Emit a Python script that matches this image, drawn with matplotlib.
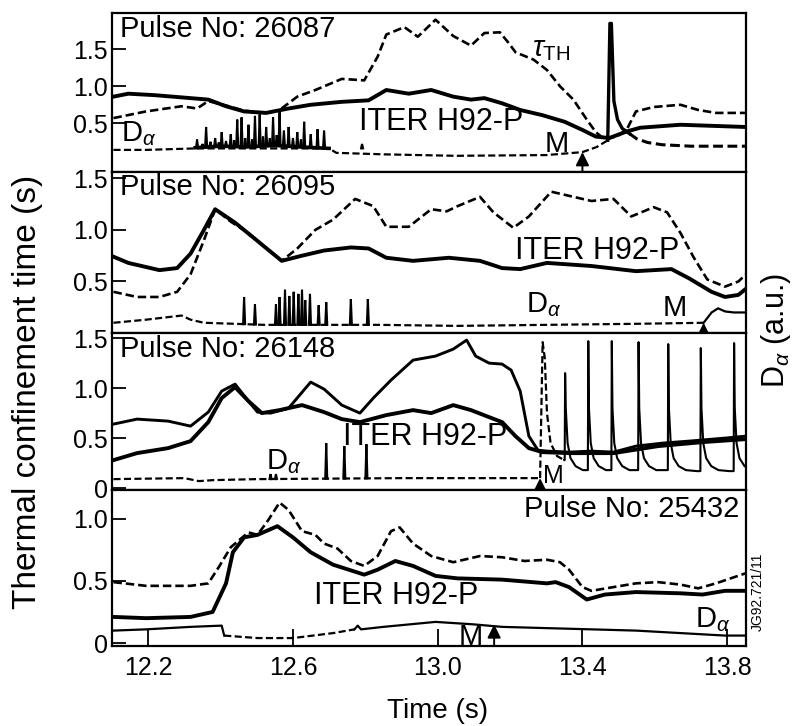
import numpy as np
import matplotlib
matplotlib.use("Agg")
import matplotlib.pyplot as plt

plt.rcParams['font.family'] = ['Liberation Sans', 'DejaVu Sans']
plt.rcParams['mathtext.fontset'] = 'custom'
plt.rcParams['mathtext.rm'] = 'Liberation Sans'
plt.rcParams['mathtext.it'] = 'Liberation Sans:italic'

# ---------------- data ----------------
x_ticks = [12.2, 12.6, 13.0, 13.4, 13.8]
x_ticklabels = ['12.2', '12.6', '13.0', '13.4', '13.8']
pulse_labels = ['Pulse No: 26087', 'Pulse No: 26095', 'Pulse No: 26148', 'Pulse No: 25432']

# Panel 1 (26087)
p1_tau_t = [12.104, 12.194, 12.292, 12.335, 12.366, 12.415, 12.465, 12.526, 12.563, 12.612, 12.662, 12.735,
            12.797, 12.834, 12.858, 12.908, 12.945, 12.994, 13.043, 13.092, 13.129, 13.172, 13.197, 13.215,
            13.265, 13.302, 13.338, 13.375, 13.412, 13.437, 13.462, 13.498, 13.523, 13.548, 13.597, 13.671,
            13.720, 13.769, 13.850]
p1_tau_v = [0.57, 0.66, 0.73, 0.70, 0.80, 0.74, 0.67, 0.64, 0.68, 0.86, 0.95, 1.10,
            1.08, 1.40, 1.70, 1.80, 1.67, 1.90, 1.68, 1.55, 1.72, 1.73, 1.58, 1.46,
            1.36, 1.22, 1.00, 0.82, 0.55, 0.38, 0.28, 0.33, 0.42, 0.66, 0.72, 0.75,
            0.68, 0.64, 0.64]
p1_iter_t = [12.104, 12.145, 12.218, 12.317, 12.366, 12.415, 12.465, 12.526, 12.588, 12.649, 12.735, 12.809,
             12.858, 12.920, 12.982, 13.043, 13.092, 13.129, 13.178, 13.228, 13.289, 13.351, 13.400, 13.437,
             13.474, 13.523, 13.560, 13.671, 13.850]
p1_iter_v = [0.86, 0.90, 0.88, 0.84, 0.82, 0.73, 0.66, 0.64, 0.70, 0.75, 0.79, 0.81,
             0.95, 0.90, 0.95, 0.86, 0.82, 0.84, 0.77, 0.68, 0.61, 0.52, 0.41, 0.32,
             0.30, 0.39, 0.44, 0.48, 0.45]
p1_da_t = [12.104, 12.194, 12.330, 12.700, 12.720, 12.850, 13.050, 13.300, 13.400, 13.440, 13.470]
p1_da_v = [0.14, 0.14, 0.16, 0.16, 0.10, 0.08, 0.06, 0.07, 0.11, 0.18, 0.27]
p1_noisy_t = [12.330, 12.40, 12.47, 12.55, 12.62, 12.70]
p1_noisy_v = [0.17, 0.19, 0.18, 0.20, 0.18, 0.16]
p1_spike_t = [12.335, 12.350, 12.360, 12.372, 12.385, 12.395, 12.403, 12.415, 12.428, 12.438, 12.446, 12.458,
              12.468, 12.477, 12.487, 12.495, 12.508, 12.517, 12.526, 12.536, 12.545, 12.555, 12.563, 12.575,
              12.588, 12.600, 12.612, 12.622, 12.631, 12.649, 12.668, 12.686, 12.791]
p1_spike_v = [0.28, 0.22, 0.45, 0.25, 0.30, 0.24, 0.38, 0.26, 0.35, 0.27, 0.55, 0.58,
              0.30, 0.48, 0.28, 0.60, 0.62, 0.32, 0.45, 0.30, 0.58, 0.34, 0.65, 0.40,
              0.45, 0.30, 0.38, 0.28, 0.52, 0.35, 0.42, 0.40, 0.22]
p1_big_t = [13.470, 13.476, 13.480, 13.487, 13.497, 13.510, 13.530]
p1_big_v = [0.27, 1.85, 1.85, 0.80, 0.55, 0.43, 0.36]
p1_after_t = [13.530, 13.550, 13.580, 13.620, 13.700, 13.850]
p1_after_v = [0.36, 0.29, 0.24, 0.21, 0.19, 0.19]
p1_M_t = 13.40
p1_M_v = 0.11

# Panel 2 (26095)
p2_tau_t = [12.104, 12.169, 12.231, 12.280, 12.317, 12.354, 12.385, 12.428, 12.477, 12.526, 12.569, 12.612,
            12.662, 12.711, 12.772, 12.822, 12.858, 12.920, 12.982, 13.025, 13.055, 13.117, 13.154, 13.209,
            13.252, 13.314, 13.363, 13.425, 13.486, 13.535, 13.597, 13.634, 13.671, 13.708, 13.745, 13.794,
            13.831, 13.852]
p2_tau_v = [0.40, 0.35, 0.35, 0.40, 0.57, 0.90, 1.20, 1.08, 0.97, 0.82, 0.70, 0.82,
            1.00, 1.10, 1.30, 1.23, 1.03, 1.03, 1.20, 1.18, 1.23, 1.32, 1.17, 1.02,
            1.13, 1.37, 1.33, 1.28, 1.30, 1.13, 1.22, 1.17, 0.97, 0.73, 0.52, 0.45,
            0.50, 0.57]
p2_iter_t = [12.104, 12.145, 12.231, 12.280, 12.317, 12.354, 12.385, 12.440, 12.489, 12.569, 12.625, 12.686,
             12.760, 12.809, 12.858, 12.932, 13.031, 13.117, 13.178, 13.228, 13.302, 13.425, 13.548, 13.646,
             13.695, 13.757, 13.794, 13.831, 13.852]
p2_iter_v = [0.74, 0.68, 0.61, 0.63, 0.77, 1.00, 1.20, 1.07, 0.93, 0.70, 0.75, 0.80,
             0.83, 0.82, 0.73, 0.70, 0.73, 0.70, 0.63, 0.62, 0.68, 0.65, 0.60, 0.62,
             0.53, 0.40, 0.35, 0.37, 0.43]
p2_da_t = [12.104, 12.194, 12.292, 12.317, 12.354, 12.440, 12.520, 12.834, 13.055, 13.302, 13.548, 13.735]
p2_da_v = [0.10, 0.13, 0.17, 0.13, 0.10, 0.09, 0.08, 0.08, 0.07, 0.08, 0.09, 0.10]
p2_after_t = [13.735, 13.757, 13.775, 13.794, 13.818, 13.852]
p2_after_v = [0.10, 0.20, 0.24, 0.21, 0.20, 0.20]
p2_spike_t = [12.465, 12.495, 12.553, 12.563, 12.578, 12.590, 12.602, 12.615, 12.625, 12.634, 12.647, 12.671,
              12.692, 12.760, 12.807]
p2_spike_v = [0.35, 0.28, 0.28, 0.35, 0.42, 0.36, 0.40, 0.38, 0.42, 0.32, 0.38, 0.27,
              0.30, 0.33, 0.33]
p2_M_t = 13.735
p2_M_v = 0.10

# Panel 3 (26148)
p3_tau_t = [12.104, 12.169, 12.255, 12.317, 12.366, 12.403, 12.440, 12.477, 12.502, 12.538, 12.588, 12.649,
            12.686, 12.735, 12.785, 12.822, 12.871, 12.932, 12.994, 13.043, 13.080, 13.105, 13.142, 13.178,
            13.203, 13.228, 13.252, 13.277, 13.302, 13.363, 13.424, 13.486, 13.548, 13.622, 13.695, 13.794,
            13.852]
p3_tau_v = [0.64, 0.69, 0.67, 0.62, 0.76, 0.97, 1.04, 0.87, 0.76, 0.75, 0.80, 1.06,
            0.99, 0.83, 0.75, 0.90, 1.08, 1.28, 1.32, 1.39, 1.48, 1.32, 1.25, 1.24,
            1.18, 0.97, 0.52, 0.38, 0.37, 0.36, 0.37, 0.36, 0.42, 0.45, 0.47, 0.50,
            0.52]
p3_iter_t = [12.104, 12.169, 12.255, 12.317, 12.366, 12.403, 12.440, 12.477, 12.514, 12.563, 12.625, 12.686,
             12.735, 12.785, 12.858, 12.932, 12.982, 13.043, 13.092, 13.142, 13.178, 13.215, 13.252, 13.289,
             13.363, 13.486, 13.609, 13.732, 13.852]
p3_iter_v = [0.28, 0.35, 0.40, 0.47, 0.66, 0.90, 1.01, 0.87, 0.75, 0.78, 0.83, 0.76,
             0.69, 0.66, 0.73, 0.78, 0.75, 0.83, 0.78, 0.71, 0.66, 0.52, 0.40, 0.36,
             0.35, 0.35, 0.42, 0.46, 0.49]
p3_da_t = [12.104, 12.300, 12.340, 12.380, 12.500, 12.900, 13.283]
p3_da_v = [0.09, 0.10, 0.07, 0.08, 0.09, 0.10, 0.10]
p3_spike_t = [12.538, 12.553, 12.692, 12.742, 12.803]
p3_spike_v = [0.14, 0.14, 0.45, 0.42, 0.44]
p3_elm1_t = [13.283, 13.290, 13.296, 13.302, 13.312, 13.330, 13.350]
p3_elm1_v = [0.10, 1.46, 1.30, 0.75, 0.45, 0.32, 0.28]
p3_elm_t = [13.351, 13.415, 13.480, 13.554, 13.636, 13.726, 13.818]
p3_elm_v = [1.15, 1.47, 1.47, 1.46, 1.44, 1.40, 1.45]
elm_tail_dt = [0.003, 0.008, 0.016, 0.030, 0.050, 0.080]
elm_tail_v = [0.80, 0.45, 0.30, 0.22, 0.18, 0.17]
p3_M_t = 13.283
p3_M_v = 0.10

# Panel 4 (25432)
p4_tau_t = [12.104, 12.194, 12.317, 12.366, 12.397, 12.428, 12.452, 12.477, 12.502, 12.532, 12.563, 12.588,
            12.625, 12.662, 12.686, 12.723, 12.760, 12.797, 12.834, 12.871, 12.895, 12.932, 12.982, 13.043,
            13.117, 13.178, 13.240, 13.302, 13.338, 13.363, 13.400, 13.425, 13.486, 13.548, 13.609, 13.671,
            13.720, 13.769, 13.850]
p4_tau_v = [0.49, 0.46, 0.46, 0.48, 0.62, 0.77, 0.83, 0.89, 0.87, 0.99, 1.13, 1.07,
            0.90, 0.87, 0.80, 0.76, 0.66, 0.62, 0.70, 0.90, 0.93, 0.80, 0.70, 0.65,
            0.70, 0.69, 0.66, 0.67, 0.65, 0.59, 0.45, 0.42, 0.45, 0.48, 0.49, 0.47,
            0.44, 0.48, 0.56]
p4_iter_t = [12.104, 12.194, 12.317, 12.378, 12.415, 12.434, 12.465, 12.502, 12.557, 12.600, 12.649, 12.711,
             12.797, 12.834, 12.883, 12.932, 12.994, 13.055, 13.178, 13.302, 13.326, 13.363, 13.412, 13.462,
             13.548, 13.671, 13.732, 13.794, 13.850]
p4_iter_v = [0.21, 0.20, 0.21, 0.25, 0.48, 0.73, 0.85, 0.87, 0.94, 0.85, 0.73, 0.63,
             0.55, 0.59, 0.66, 0.62, 0.54, 0.52, 0.51, 0.48, 0.49, 0.45, 0.35, 0.39,
             0.41, 0.40, 0.39, 0.42, 0.42]
p4_da_t = [12.104, 12.194, 12.317, 12.403, 12.410, 12.502, 12.600, 12.711, 12.770, 12.779, 12.788, 12.850,
           12.994, 13.100, 13.178, 13.300, 13.425, 13.548, 13.671, 13.794, 13.850]
p4_da_v = [0.10, 0.11, 0.13, 0.14, 0.06, 0.04, 0.04, 0.08, 0.11, 0.14, 0.11, 0.13,
           0.17, 0.15, 0.13, 0.12, 0.11, 0.10, 0.08, 0.06, 0.06]
p4_M_t = 13.156
p4_M_v = 0.15

# ---------------- figure ----------------
fig = plt.figure(figsize=(7.98, 7.26), dpi=100)
gs = fig.add_gridspec(4, 1, left=0.1404, right=0.9348, top=0.982, bottom=0.110,
                      hspace=0, height_ratios=[159, 161, 157, 156])
axes = [fig.add_subplot(gs[i]) for i in range(4)]

ylims = [(-0.16, 1.99), (0.0, 1.56), (-0.02, 1.55), (-0.025, 1.23)]
yticks = [[0.5, 1.0, 1.5], [0.5, 1.0, 1.5], [0, 0.5, 1.0, 1.5], [0, 0.5, 1.0]]
ytlabels = [['0.5', '1.0', '1.5'], ['0.5', '1.0', '1.5'], ['0', '0.5', '1.0', '1.5'], ['0', '0.5', '1.0']]

K = 'black'
LW_ITER = 2.8
LW_TAU = 1.9
LW_DA = 1.6
DASH = (3.2, 1.5)

TFS = 18
LFS = 21

for i, ax in enumerate(axes):
    ax.set_xlim(12.10, 13.852)
    ax.set_ylim(*ylims[i])
    ax.set_yticks(yticks[i])
    ax.set_yticklabels(ytlabels[i], fontsize=TFS)
    ax.tick_params(axis='y', direction='in', length=10, width=1.3, pad=3)
    ax.set_xticks(x_ticks)
    for s in ax.spines.values():
        s.set_linewidth(1.6)
    if i < 3:
        ax.tick_params(axis='x', length=0, labelbottom=False)
    else:
        ax.set_xticklabels(x_ticklabels, fontsize=TFS)
        ax.tick_params(axis='x', direction='in', length=12, width=1.3, pad=7)


def spikes(ax, ts, vs, bt, bv, w=0.0028, lw=1.5):
    for t, v in zip(ts, vs):
        b = np.interp(t, bt, bv)
        ax.plot([t - w, t, t + w], [b, v, b], color=K, lw=lw, solid_joinstyle='miter')


def arrow(ax, t, v):
    y0 = ax.get_ylim()[0]
    ax.annotate('', xy=(t, v), xytext=(t, y0),
                arrowprops=dict(arrowstyle='-|>', lw=1.4, color=K, mutation_scale=20,
                                shrinkA=0, shrinkB=0))


def dline(ax, t, v, lw=LW_DA):
    ax.plot(t, v, color=K, lw=lw, dashes=DASH)


# Panel 1
ax = axes[0]
ax.plot(p1_iter_t, p1_iter_v, color=K, lw=LW_ITER)
ax.plot(p1_tau_t, p1_tau_v, color=K, lw=LW_TAU, dashes=DASH)
dline(ax, p1_da_t, p1_da_v)
ax.plot(p1_noisy_t, p1_noisy_v, color=K, lw=2.6)
spikes(ax, p1_spike_t, p1_spike_v, p1_noisy_t, p1_noisy_v)
ax.plot(p1_big_t, p1_big_v, color=K, lw=2.4)
dline(ax, p1_after_t, p1_after_v, lw=2.2)
arrow(ax, p1_M_t, p1_M_v)
ax.text(12.122, 1.97, pulse_labels[0], fontsize=LFS, va='top', ha='left')
ax.text(13.262, 1.50, r'$\tau_{\rm TH}$', fontsize=LFS, va='center', ha='left')
ax.text(13.01, 0.52, 'ITER H92-P', fontsize=LFS + 1, va='center', ha='center')
ax.text(12.125, 0.36, r'D$_{\alpha}$', fontsize=LFS, va='center', ha='left')
ax.text(13.33, 0.22, 'M', fontsize=LFS, va='center', ha='center')

# Panel 2
ax = axes[1]
ax.plot(p2_iter_t, p2_iter_v, color=K, lw=LW_ITER)
ax.plot(p2_tau_t, p2_tau_v, color=K, lw=LW_TAU, dashes=DASH)
dline(ax, p2_da_t, p2_da_v)
ax.plot(p2_after_t, p2_after_v, color=K, lw=LW_DA)
spikes(ax, p2_spike_t, p2_spike_v, p2_da_t, p2_da_v)
arrow(ax, p2_M_t, p2_M_v)
ax.text(12.122, 1.55, pulse_labels[1], fontsize=LFS, va='top', ha='left')
ax.text(13.44, 0.80, 'ITER H92-P', fontsize=LFS + 1, va='center', ha='center')
ax.text(13.245, 0.28, r'D$_{\alpha}$', fontsize=LFS, va='center', ha='left')
ax.text(13.655, 0.24, 'M', fontsize=LFS, va='center', ha='center')

# Panel 3
ax = axes[2]
ax.plot(p3_iter_t, p3_iter_v, color=K, lw=LW_ITER)
ax.plot(p3_tau_t, p3_tau_v, color=K, lw=2.1)
dline(ax, p3_da_t, p3_da_v)
spikes(ax, p3_spike_t, p3_spike_v, p3_da_t, p3_da_v)
dline(ax, p3_elm1_t, p3_elm1_v)
elm_path_t, elm_path_v = [p3_elm1_t[-1]], [p3_elm1_v[-1]]
for k, (t0, pk) in enumerate(zip(p3_elm_t, p3_elm_v)):
    nxt = p3_elm_t[k + 1] if k + 1 < len(p3_elm_t) else 14.0
    elm_path_t += [t0, t0 + 0.0012]
    elm_path_v += [elm_path_v[-1], pk]
    for dt, tv in zip(elm_tail_dt, elm_tail_v):
        if t0 + dt < nxt - 0.002:
            elm_path_t.append(t0 + dt)
            elm_path_v.append(tv)
ax.plot(elm_path_t, elm_path_v, color=K, lw=1.5)
arrow(ax, p3_M_t, p3_M_v)
ax.text(12.122, 1.53, pulse_labels[2], fontsize=LFS, va='top', ha='left')
ax.text(12.525, 0.27, r'D$_{\alpha}$', fontsize=LFS, va='center', ha='left')
ax.text(12.965, 0.51, 'ITER H92-P', fontsize=LFS + 1, va='center', ha='center')
ax.text(13.29, 0.0, 'M', fontsize=18, va='bottom', ha='left')

# Panel 4
ax = axes[3]
ax.plot(p4_iter_t, p4_iter_v, color=K, lw=LW_ITER)
ax.plot(p4_tau_t, p4_tau_v, color=K, lw=LW_TAU, dashes=DASH)
ax.plot(p4_da_t[:5], p4_da_v[:5], color=K, lw=LW_DA)
dline(ax, p4_da_t[4:9], p4_da_v[4:9])
ax.plot(p4_da_t[8:], p4_da_v[8:], color=K, lw=LW_DA)
arrow(ax, p4_M_t, p4_M_v)
ax.text(13.835, 1.19, pulse_labels[3], fontsize=LFS, va='top', ha='right')
ax.text(12.885, 0.38, 'ITER H92-P', fontsize=LFS + 1, va='center', ha='center')
ax.text(13.71, 0.19, r'D$_{\alpha}$', fontsize=LFS, va='center', ha='left')
ax.text(13.09, 0.05, 'M', fontsize=LFS, va='center', ha='center')

fig.text(0.035, 0.46, 'Thermal confinement time (s)', rotation=90, fontsize=24,
         va='center', ha='center')
fig.text(0.972, 0.545, r'D$_{\alpha}$ (a.u.)', rotation=90, fontsize=22,
         va='center', ha='center')
fig.text(0.548, 0.021, 'Time (s)', fontsize=20, va='center', ha='center')
fig.text(0.949, 0.185, 'JG92.721/11', rotation=90, fontsize=10, va='center', ha='center')

fig.savefig('out.png', dpi=100)
